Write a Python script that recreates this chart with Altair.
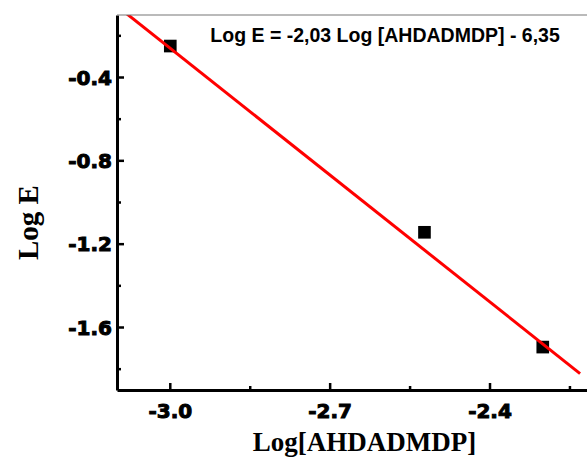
import altair as alt
import pandas as pd

# Measured points: log of concentration vs log E
log_conc = [-3.0, -2.523, -2.301]
log_e = [-0.249, -1.143, -1.694]

# Linear fit quoted in the annotation
slope = -2.03
intercept = -6.35
fit_x = [-3.1, -2.231]
equation = "Log E = -2,03 Log [AHDADMDP] - 6,35"

# Axis ticks and their labels
x_major = [-3.0, -2.7, -2.4]
x_labels = ["-3.0", "-2.7", "-2.4"]
x_minor = [-2.85, -2.55, -2.25]
y_major = [-0.4, -0.8, -1.2, -1.6]
y_labels = ["-0.4", "-0.8", "-1.2", "-1.6"]
y_minor = [-0.2, -0.6, -1.0, -1.4, -1.8]

W, H = 470, 375
xs = alt.Scale(domain=[-3.1, -2.218], nice=False, zero=False)
ys = alt.Scale(domain=[-1.9, -0.1], nice=False, zero=False)

x_axis = alt.Axis(
    values=x_major, labels=False, ticks=False, grid=False,
    domainColor="black", domainWidth=3,
    title="Log[AHDADMDP]", titleFont="Liberation Serif", titleFontSize=27,
    titleFontWeight="bold", titleColor="black", titleX=247, titleY=60,
    titleBaseline="alphabetic", titleAlign="center", titleAnchor="middle",
)
y_axis = alt.Axis(
    values=y_major, labels=False, ticks=False, grid=False,
    domainColor="black", domainWidth=3,
    title="Log E", titleFont="Liberation Serif", titleFontSize=29,
    titleFontWeight="bold", titleColor="black", titleX=-80, titleY=207,
    titleAngle=270, titleBaseline="alphabetic", titleAlign="center",
)


def X(field="x"):
    return alt.X(f"{field}:Q", scale=xs, axis=x_axis)


def Y(field="y"):
    return alt.Y(f"{field}:Q", scale=ys, axis=y_axis)


pts = pd.DataFrame({"x": log_conc, "y": log_e})
fit = pd.DataFrame({"x": fit_x, "y": [slope * v + intercept for v in fit_x]})

points = alt.Chart(pts).mark_square(size=160, color="black", opacity=1).encode(
    x=X(), y=Y(),
)

line = alt.Chart(fit).mark_line(color="#ff0000", strokeWidth=3, clip=True).encode(
    x=X(), y=Y(),
)

note = alt.Chart(pd.DataFrame({"x": [-2.597], "y": [-0.231], "t": [equation]})).mark_text(
    font="Liberation Sans", fontWeight="bold", fontSize=19.5, color="black",
    align="center", baseline="alphabetic",
).encode(x=X(), y=Y(), text="t:N")


def x_ticks(vals, length):
    return alt.Chart(pd.DataFrame({"x": vals})).mark_rule(
        color="black", strokeWidth=2.5
    ).encode(x=X(), y=alt.value(H), y2=alt.value(H - length))


def y_ticks(vals, length):
    return alt.Chart(pd.DataFrame({"y": vals})).mark_rule(
        color="black", strokeWidth=2.5
    ).encode(y=Y(), x=alt.value(0), x2=alt.value(length))


label_style = dict(
    font="DejaVu Sans", fontWeight="bold", fontSize=20, color="black",
    stroke="black", strokeWidth=1.0,
)

x_tick_labels = alt.Chart(pd.DataFrame({"x": x_major, "t": x_labels})).mark_text(
    align="center", baseline="alphabetic", **label_style
).encode(x=X(), y=alt.value(H + 28), text="t:N")

y_tick_labels = alt.Chart(pd.DataFrame({"y": y_major, "t": y_labels})).mark_text(
    align="right", baseline="middle", dy=1, **label_style
).encode(y=Y(), x=alt.value(-5), text="t:N")

top_frame = alt.Chart(pd.DataFrame({"a": [0]})).mark_rule(
    color="#777777", strokeWidth=1.2
).encode(x=alt.value(0), x2=alt.value(W), y=alt.value(0))

chart = alt.layer(
    points,
    line,
    note,
    x_ticks(x_major, 7),
    x_ticks(x_minor, 4),
    y_ticks(y_major, 7),
    y_ticks(y_minor, 4),
    x_tick_labels,
    y_tick_labels,
    top_frame,
).properties(
    width=W, height=H,
    autosize=alt.AutoSizeParams(type="none"),
    padding={"left": 117, "top": 15, "right": 0, "bottom": 67},
    background="white",
).configure_view(stroke=None)

chart.save("out.html", embed_options={"renderer": "svg", "actions": False})
